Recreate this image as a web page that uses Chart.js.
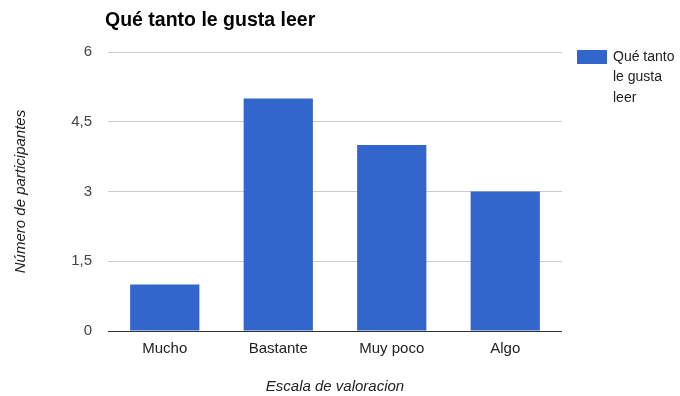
<!DOCTYPE html>
<html>
<head>
<meta charset="utf-8">
<script src="https://cdn.jsdelivr.net/npm/chart.js@4/dist/chart.umd.min.js"></script>
<style>
html,body{margin:0;padding:0;background:#fff;}
#wrap{width:680px;height:396px;position:relative;}
</style>
</head>
<body>
<div id="wrap"><canvas id="c" width="680" height="396"></canvas></div>
<script>
const chartTitle = "Qué tanto le gusta leer";
const seriesName = "Qué tanto le gusta leer";
const legendLines = ["Qué tanto", "le gusta", "leer"];
const categories = ["Mucho", "Bastante", "Muy poco", "Algo"];
const values = [1, 5, 4, 3];
const yTickValues = [0, 1.5, 3, 4.5, 6];
const yTickLabels = ["0", "1,5", "3", "4,5", "6"];
const xTitle = "Escala de valoracion";
const yTitle = "Número de participantes";

const FONT = "Arial, 'Liberation Sans', sans-serif";

const extras = {
  id: 'extras',
  afterDraw(chart) {
    const ctx = chart.ctx;
    ctx.save();
    ctx.fillStyle = '#000';
    ctx.font = "bold 19.5px " + FONT;
    ctx.textAlign = 'left';
    ctx.textBaseline = 'alphabetic';
    ctx.fillText(chartTitle, 105, 26);
    const ca = chart.chartArea;
    const bx = ca.right + 15;
    ctx.fillStyle = chart.data.datasets[0].backgroundColor;
    ctx.fillRect(bx, 50, 30, 14);
    ctx.fillStyle = '#222';
    ctx.font = "14px " + FONT;
    ctx.textBaseline = 'middle';
    legendLines.forEach((t, i) => ctx.fillText(t, bx + 36, 57 + i * 20.5));
    ctx.restore();
  }
};

new Chart(document.getElementById('c'), {
  type: 'bar',
  data: {
    labels: categories,
    datasets: [{
      label: seriesName,
      data: values,
      backgroundColor: '#3366cc',
      categoryPercentage: 1,
      barPercentage: 0.61
    }]
  },
  options: {
    responsive: false,
    animation: false,
    layout: { padding: { left: 0, right: 118, top: 52, bottom: 0 } },
    plugins: {
      legend: { display: false },
      title: { display: false },
      tooltip: { enabled: false }
    },
    scales: {
      x: {
        grid: { display: false, drawTicks: false },
        border: { display: false },
        ticks: { color: '#222', font: { family: FONT, size: 15 }, padding: 9 },
        title: { display: true, text: xTitle, color: '#222', font: { family: FONT, size: 15, style: 'italic' }, padding: { top: 18, bottom: 0 } },
        afterFit(s) { s.height = 65; }
      },
      y: {
        min: 0, max: 6,
        afterBuildTicks(s) { s.ticks = yTickValues.map(v => ({ value: v })); },
        grid: {
          drawTicks: false,
          color: (c) => c.tick && c.tick.value === 0 ? '#333' : '#cccccc',
          lineWidth: 1
        },
        border: { display: false },
        ticks: {
          color: '#444', font: { family: FONT, size: 15 }, padding: 16,
          callback: (v) => yTickLabels[yTickValues.indexOf(v)]
        },
        title: { display: true, text: yTitle, color: '#222', font: { family: FONT, size: 15, style: 'italic' }, padding: { top: 12, bottom: 6 } },
        afterFit(s) { s.width = 108; }
      }
    }
  },
  plugins: [extras]
});
</script>
</body>
</html>
